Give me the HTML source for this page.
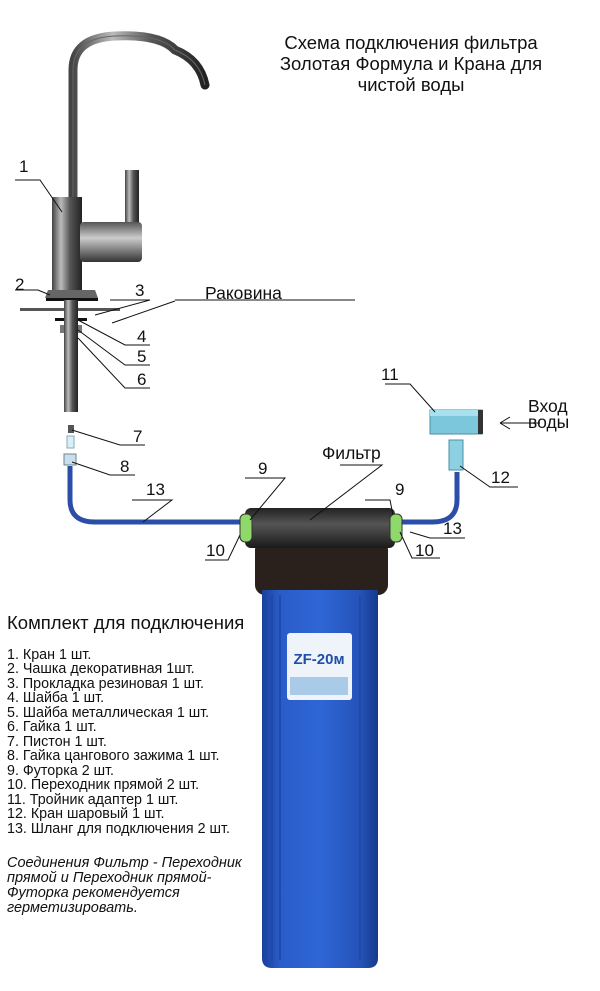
<!DOCTYPE html>
<html><head><meta charset="utf-8"><style>
html,body{margin:0;padding:0;background:#fff;}
svg{display:block;font-family:"Liberation Sans",Arial,sans-serif;}
</style></head><body>
<svg width="600" height="991" viewBox="0 0 600 991" xmlns="http://www.w3.org/2000/svg">
<defs>
<linearGradient id="chrome" x1="0" x2="1"><stop offset="0" stop-color="#444"/><stop offset=".3" stop-color="#bbb"/><stop offset=".6" stop-color="#555"/><stop offset="1" stop-color="#222"/></linearGradient>
<linearGradient id="chromeV" x1="0" y1="0" x2="0" y2="1"><stop offset="0" stop-color="#555"/><stop offset=".4" stop-color="#ccc"/><stop offset="1" stop-color="#333"/></linearGradient>
<linearGradient id="blue" x1="0" x2="1"><stop offset="0" stop-color="#1a3f9a"/><stop offset=".15" stop-color="#2a5cc8"/><stop offset=".5" stop-color="#2f66d6"/><stop offset=".85" stop-color="#2452b8"/><stop offset="1" stop-color="#163a8a"/></linearGradient>
<linearGradient id="blk" x1="0" y1="0" x2="0" y2="1"><stop offset="0" stop-color="#222"/><stop offset=".4" stop-color="#555"/><stop offset="1" stop-color="#1a1a1a"/></linearGradient>
</defs>
<g font-size="18.5" text-anchor="middle" fill="#111">
<text x="411" y="49">Схема подключения фильтра</text>
<text x="411" y="70">Золотая Формула и Крана для</text>
<text x="411" y="91">чистой воды</text>
</g>
<path d="M73 205 L73 70 Q73 38 115 36 Q160 34 175 50 Q200 60 205 85" fill="none" stroke="url(#chrome)" stroke-width="9" stroke-linecap="round"/>
<path d="M73 205 L73 70 Q73 38 115 36 Q160 34 175 50 Q200 60 205 85" fill="none" stroke="#666" stroke-width="1"/>
<rect x="125" y="170" width="14" height="65" fill="url(#chrome)"/>
<rect x="52" y="197" width="30" height="95" fill="url(#chrome)"/>
<rect x="80" y="222" width="62" height="40" rx="4" fill="url(#chromeV)"/>
<polygon points="48,290 95,290 98,298 45,298" fill="#666"/>
<rect x="46" y="298" width="52" height="3" fill="#111"/>
<rect x="20" y="308" width="100" height="3" fill="#555"/>
<rect x="55" y="318" width="32" height="3" fill="#111"/>
<rect x="60" y="325" width="22" height="8" fill="#777"/>
<rect x="64" y="300" width="14" height="112" fill="url(#chrome)"/>
<rect x="68" y="425" width="6" height="8" fill="#555"/>
<rect x="67" y="436" width="7" height="12" fill="#d8f0f8" stroke="#8ab" stroke-width="1"/>
<rect x="64" y="454" width="12" height="11" fill="#cde" stroke="#688" stroke-width="1"/>
<path d="M70 466 L70 500 Q70 522 95 522 L245 522" fill="none" stroke="#2b4fa8" stroke-width="5"/>
<path d="M398 522 L432 522 Q457 522 457 500 L457 472" fill="none" stroke="#2b4fa8" stroke-width="5"/>
<rect x="430" y="410" width="52" height="24" fill="#7cc7dc" stroke="#4a8fa4"/>
<rect x="430" y="410" width="52" height="6" fill="#a8e0ee"/>
<rect x="478" y="410" width="5" height="24" fill="#333"/>
<rect x="449" y="440" width="14" height="30" fill="#8dd0e2" stroke="#4a8fa4"/>
<rect x="255" y="540" width="133" height="55" rx="10" fill="#2a201c"/>
<path d="M262 590 L378 590 L378 958 Q378 968 368 968 L272 968 Q262 968 262 958 Z" fill="url(#blue)"/>
<g stroke="#1e48a8" stroke-width="2" opacity=".8"><line x1="272" y1="595" x2="272" y2="960"/><line x1="280" y1="595" x2="280" y2="960"/><line x1="360" y1="595" x2="360" y2="960"/><line x1="368" y1="595" x2="368" y2="960"/></g>
<rect x="287" y="633" width="65" height="67" rx="3" fill="#eef4fa"/>
<text x="319" y="664" font-size="15" font-weight="bold" fill="#1f4faa" text-anchor="middle">ZF-20м</text>
<rect x="290" y="677" width="58" height="18" fill="#a9cbe8"/>
<rect x="245" y="508" width="150" height="40" rx="6" fill="url(#blk)"/>
<rect x="240" y="514" width="12" height="28" rx="5" fill="#8fd86a" stroke="#333"/>
<rect x="390" y="514" width="12" height="28" rx="5" fill="#8fd86a" stroke="#333"/>
<g stroke="#111" stroke-width="1" fill="none">
<path d="M15 180 L40 180 L62 212"/>
<path d="M15 290 L38 290 L50 295"/>
<path d="M110 300 L150 300 L95 315"/>
<path d="M175 300 L355 300"/>
<path d="M112 323 L175 301"/>
<path d="M78 320 L125 345 L150 345"/>
<path d="M78 330 L125 365 L150 365"/>
<path d="M78 338 L125 388 L150 388"/>
<path d="M72 430 L120 445 L145 445"/>
<path d="M72 462 L110 475 L135 475"/>
<path d="M385 384 L410 384 L435 412"/>
<path d="M460 466 L490 487 L518 487"/>
<path d="M132 500 L172 500 L143 522"/>
<path d="M245 478 L285 478 L250 520"/>
<path d="M340 465 L382 465 L310 520"/>
<path d="M365 500 L390 500 L393 515"/>
<path d="M410 532 L430 538 L465 538"/>
<path d="M240 535 L228 560 L205 560"/>
<path d="M400 532 L412 558 L440 558"/>
<path d="M540 423 L500 423"/>
<path d="M500 423 L510 417 M500 423 L510 429"/>
</g>
<g font-size="17" fill="#111">
<text x="19" y="172">1</text><text x="15" y="290">2</text><text x="135" y="296">3</text>
<text x="137" y="342">4</text><text x="137" y="362">5</text><text x="137" y="385">6</text>
<text x="133" y="442">7</text><text x="120" y="472">8</text>
<text x="381" y="380">11</text><text x="491" y="483">12</text>
<text x="146" y="495">13</text><text x="258" y="474">9</text><text x="395" y="495">9</text>
<text x="443" y="534">13</text><text x="206" y="556">10</text><text x="415" y="556">10</text>
<text x="205" y="299" font-size="17.5">Раковина</text>
<text x="322" y="459" font-size="17.5">Фильтр</text>
<text x="528" y="412" font-size="17.5">Вход</text><text x="528" y="428" font-size="17.5">воды</text>
</g>
<text x="7" y="629" font-size="18.5" fill="#111">Комплект для подключения</text>
<g font-size="14.3" fill="#111">
<text x="7" y="659">1. Кран 1 шт.</text>
<text x="7" y="673">2. Чашка декоративная 1шт.</text>
<text x="7" y="688">3. Прокладка резиновая 1 шт.</text>
<text x="7" y="702">4. Шайба 1 шт.</text>
<text x="7" y="717">5. Шайба металлическая 1 шт.</text>
<text x="7" y="731">6. Гайка 1 шт.</text>
<text x="7" y="746">7. Пистон 1 шт.</text>
<text x="7" y="760">8. Гайка цангового зажима 1 шт.</text>
<text x="7" y="775">9. Футорка 2 шт.</text>
<text x="7" y="789">10. Переходник прямой 2 шт.</text>
<text x="7" y="804">11. Тройник адаптер 1 шт.</text>
<text x="7" y="818">12. Кран шаровый 1 шт.</text>
<text x="7" y="833">13. Шланг для подключения 2 шт.</text>
</g>
<g font-size="14.5" font-style="italic" fill="#111">
<text x="7" y="867">Соединения Фильтр - Переходник</text>
<text x="7" y="882">прямой и Переходник прямой-</text>
<text x="7" y="897">Футорка рекомендуется</text>
<text x="7" y="912">герметизировать.</text>
</g>
</svg>
</body></html>
